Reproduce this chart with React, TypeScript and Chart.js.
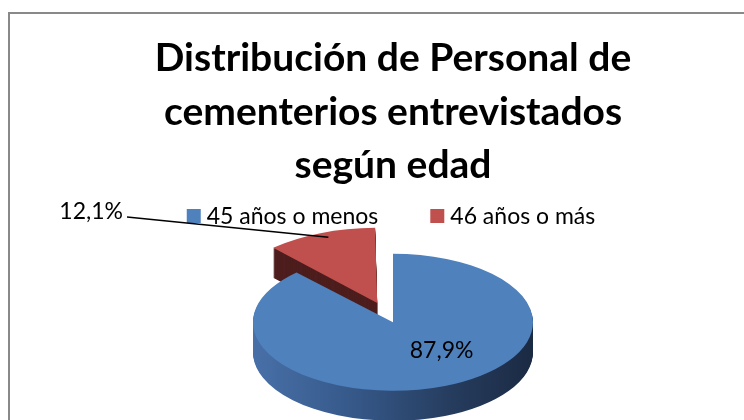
import React, { useEffect, useRef } from 'react';
import { Chart, registerables } from 'chart.js';

Chart.register(...registerables);

// ---- data ----
const titleLines = ['Distribución de Personal de', 'cementerios entrevistados', 'según edad'];
const categories = ['45 años o menos', '46 años o más'];
const percentages = [87.9, 12.1];

// ---- styles ----
const topColors = ['#4f81bd', '#c0504d'];
const redSide = '#4d1e1d';
const explodeOffsets = [0, 170];

const W = 766;
const H = 438;
const TILT = 0.49;
const DEPTH = 30;
const FONT = 'Lato, "Open Sans", sans-serif';
const LABEL_FONT_SIZE = 23;
const BOX = 14;
const BOX_GAP = 6;
const ITEM_GAP = 52;
const LEGEND_Y = 202;

const fmt = (v: number) => v.toFixed(1).replace('.', ',') + '%';

function squash(ctx: CanvasRenderingContext2D, cx: number, cy: number) {
  ctx.translate(cx, cy);
  ctx.scale(1, TILT);
  ctx.translate(-cx, -cy);
}

const pie3d = {
  id: 'pie3d',
  beforeDraw(chart: any) {
    const ctx = chart.ctx;
    ctx.save();
    ctx.fillStyle = '#ffffff';
    ctx.fillRect(0, 0, chart.width, chart.height);
    ctx.restore();
  },
  beforeDatasetsDraw(chart: any) {
    const ctx: CanvasRenderingContext2D = chart.ctx;
    const arcs = chart.getDatasetMeta(0).data as any[];
    if (!arcs.length) return;
    const cx = arcs[0].x;
    const cy = arcs[0].y;
    const r = arcs[0].outerRadius;
    for (let d = DEPTH; d >= 1; d--) {
      arcs.forEach((arc, i) => {
        ctx.save();
        ctx.translate(0, d);
        squash(ctx, cx, cy);
        let fill: any;
        if (i === 0) {
          const g = ctx.createLinearGradient(cx - r, 0, cx + r, 0);
          g.addColorStop(0, '#4870a8');
          g.addColorStop(0.35, '#36598a');
          g.addColorStop(0.7, '#263d5f');
          g.addColorStop(1, '#1b2a43');
          fill = g;
        } else {
          fill = redSide;
        }
        const orig = arc.options;
        arc.options = { ...orig, backgroundColor: fill };
        arc.draw(ctx);
        arc.options = orig;
        ctx.restore();
      });
    }
    ctx.save();
    squash(ctx, cx, cy);
  },
  afterDatasetsDraw(chart: any) {
    chart.ctx.restore();
  },
  afterDraw(chart: any) {
    const ctx: CanvasRenderingContext2D = chart.ctx;
    const arcs = chart.getDatasetMeta(0).data as any[];
    if (!arcs.length) return;
    const cx = arcs[0].x;
    const cy = arcs[0].y;
    const r = arcs[0].outerRadius;
    ctx.save();
    ctx.font = `${LABEL_FONT_SIZE}px ${FONT}`;
    ctx.textBaseline = 'middle';

    // legend
    const widths = categories.map((c) => ctx.measureText(c).width);
    const total =
      widths.reduce((s, w) => s + BOX + BOX_GAP + w, 0) + ITEM_GAP * (categories.length - 1);
    let x = chart.width / 2 - total / 2 - 2;
    categories.forEach((c, i) => {
      ctx.fillStyle = topColors[i];
      ctx.fillRect(x, LEGEND_Y - BOX / 2, BOX, BOX);
      ctx.fillStyle = '#000';
      ctx.textAlign = 'left';
      ctx.fillText(c, x + BOX + BOX_GAP, LEGEND_Y + 1);
      x += BOX + BOX_GAP + widths[i] + ITEM_GAP;
    });

    // inside label (large slice)
    const a0 = arcs[0];
    const m0 = (a0.startAngle + a0.endAngle) / 2;
    const lx = cx + Math.cos(m0) * r * 0.55 + 20;
    const ly = cy + Math.sin(m0) * r * 0.55 * TILT - 7;
    ctx.fillStyle = '#000';
    ctx.textAlign = 'center';
    ctx.fillText(fmt(percentages[0]), lx, ly);

    // outside label (exploded slice) with leader line
    const a1 = arcs[1];
    const m1 = (a1.startAngle + a1.endAngle) / 2;
    const T = (a1.options.offset || 0) / 4;
    const circ = a1.endAngle - a1.startAngle;
    const rr = r + T * (1 - Math.sin(Math.min(Math.PI, circ)));
    const px = cx + Math.cos(m1) * (T + rr);
    const py = cy + Math.sin(m1) * (T + rr) * TILT;
    ctx.textAlign = 'right';
    ctx.fillText(fmt(percentages[1]), 113, 198);
    ctx.strokeStyle = '#000';
    ctx.lineWidth = 1.4;
    ctx.beginPath();
    ctx.moveTo(117, 203);
    ctx.lineTo(px + 8, py + 4);
    ctx.stroke();
    ctx.restore();
  },
};

export default function App() {
  const ref = useRef<HTMLCanvasElement | null>(null);
  useEffect(() => {
    if (!ref.current) return;
    const chart = new Chart(ref.current, {
      type: 'pie',
      data: {
        labels: categories,
        datasets: [
          {
            data: percentages,
            backgroundColor: topColors,
            borderWidth: 0,
            offset: explodeOffsets,
            radius: 140,
            clip: false,
          } as any,
        ],
      },
      options: {
        responsive: false,
        animation: false,
        events: [],
        devicePixelRatio: 1,
        layout: { padding: 0 },
        plugins: {
          legend: { display: false },
          tooltip: { enabled: false },
          title: {
            display: true,
            text: titleLines,
            color: '#000',
            font: { family: FONT, size: 39, weight: 'bold', lineHeight: 1.372 },
            padding: { top: 18, bottom: 0 },
          },
        },
      } as any,
      plugins: [pie3d],
    });
    return () => chart.destroy();
  }, []);
  return (
    <div
      style={{
        position: 'fixed',
        left: 8,
        top: 12,
        width: W,
        height: H,
        border: '2px solid #898989',
        background: '#fff',
      }}
    >
      <canvas ref={ref} width={W} height={H} style={{ display: 'block' }} />
    </div>
  );
}
